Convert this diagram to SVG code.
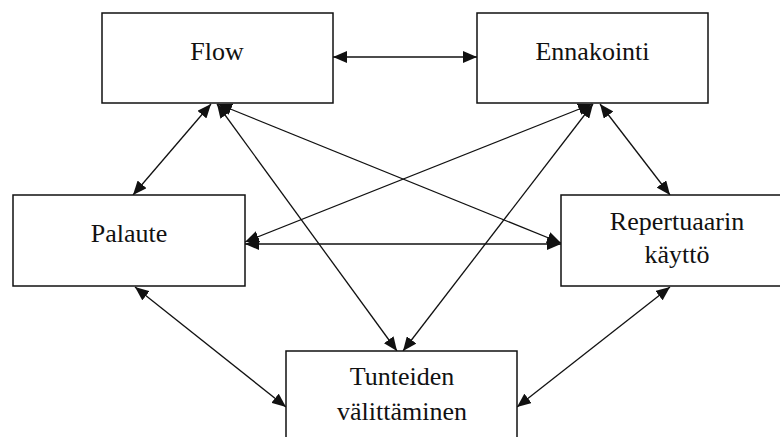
<svg xmlns="http://www.w3.org/2000/svg" width="780" height="437" viewBox="0 0 780 437">
  <style>
    .box { fill: #ffffff; stroke: #111111; stroke-width: 1.5; }
    .lbl { font-family: "Liberation Serif", "Times New Roman", serif; font-size: 26px; fill: #111111; text-anchor: middle; }
    .con { stroke: #111111; stroke-width: 1.3; fill: none; marker-start: url(#ah); marker-end: url(#ah); }
  </style>
  <defs>
    <marker id="ah" markerUnits="userSpaceOnUse" markerWidth="14" markerHeight="12" viewBox="0 0 13 11" refX="13" refY="5.5" orient="auto-start-reverse">
      <path d="M0,0 L13,5.5 L0,11 z" fill="#111111"/>
    </marker>
  </defs>
  <rect x="0" y="0" width="780" height="437" fill="#ffffff"/>
  <g id="connectors">
    <line class="con" x1="333" y1="57" x2="477" y2="57"/>
    <line class="con" x1="211" y1="104" x2="133" y2="195"/>
    <line class="con" x1="217" y1="104" x2="397" y2="351"/>
    <line class="con" x1="218" y1="104" x2="561" y2="243"/>
    <line class="con" x1="592" y1="104" x2="245" y2="242"/>
    <line class="con" x1="593" y1="104" x2="403" y2="351"/>
    <line class="con" x1="600" y1="104" x2="670" y2="195"/>
    <line class="con" x1="245" y1="244" x2="561" y2="244"/>
    <line class="con" x1="135" y1="287" x2="286" y2="407"/>
    <line class="con" x1="670" y1="287" x2="517" y2="407"/>
  </g>
  <g id="flow">
    <rect class="box" x="102" y="13" width="231" height="90"/>
    <text class="lbl" x="217" y="60">Flow</text>
  </g>
  <g id="ennakointi">
    <rect class="box" x="477" y="13" width="231" height="90"/>
    <text class="lbl" x="592.5" y="60">Ennakointi</text>
  </g>
  <g id="palaute">
    <rect class="box" x="13" y="195" width="232" height="91"/>
    <text class="lbl" x="129" y="242">Palaute</text>
  </g>
  <g id="repertuaarin">
    <rect class="box" x="561" y="195" width="231" height="91"/>
    <text class="lbl" x="677" y="230">Repertuaarin</text>
    <text class="lbl" x="677" y="263">käyttö</text>
  </g>
  <g id="tunteiden">
    <rect class="box" x="286" y="351" width="231" height="100"/>
    <text class="lbl" x="402" y="385">Tunteiden</text>
    <text class="lbl" x="402" y="420">välittäminen</text>
  </g>
</svg>
